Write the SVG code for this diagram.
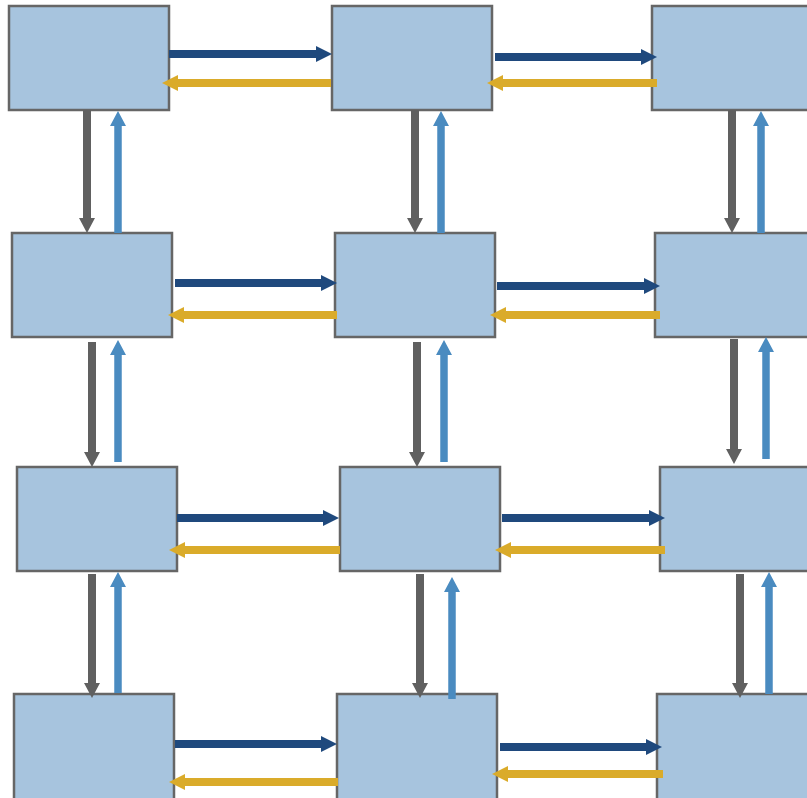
<svg xmlns="http://www.w3.org/2000/svg" width="807" height="798" viewBox="0 0 807 798">
<style>
.n{fill:#a7c4de;stroke:#666666;stroke-width:2.5}
.r{stroke:#1f497d;stroke-width:8;marker-end:url(#mR)}
.l{stroke:#daab2a;stroke-width:8;marker-end:url(#mL)}
.d{stroke:#606060;stroke-width:8;marker-end:url(#mD)}
.u{stroke:#4a8bc0;stroke-width:7.5;marker-end:url(#mU)}
</style>
<defs>
<marker id="mR" markerUnits="userSpaceOnUse" markerWidth="16" markerHeight="16" refX="0" refY="8" orient="auto" overflow="visible"><path d="M0,0L16,8L0,16z" fill="#1f497d"/></marker>
<marker id="mL" markerUnits="userSpaceOnUse" markerWidth="16" markerHeight="16" refX="0" refY="8" orient="auto" overflow="visible"><path d="M0,0L16,8L0,16z" fill="#daab2a"/></marker>
<marker id="mD" markerUnits="userSpaceOnUse" markerWidth="16" markerHeight="16" refX="0" refY="8" orient="auto" overflow="visible"><path d="M0,0L15,8L0,16z" fill="#606060"/></marker>
<marker id="mU" markerUnits="userSpaceOnUse" markerWidth="16" markerHeight="16" refX="0" refY="8" orient="auto" overflow="visible"><path d="M0,0L15,8L0,16z" fill="#4a8bc0"/></marker>
</defs>
<g id="n11"><rect class="n" x="9" y="6" width="160" height="104"/></g>
<g id="n12"><rect class="n" x="332" y="6" width="160" height="104"/></g>
<g id="n13"><rect class="n" x="652" y="6" width="160" height="104"/></g>
<g id="n21"><rect class="n" x="12" y="233" width="160" height="104"/></g>
<g id="n22"><rect class="n" x="335" y="233" width="160" height="104"/></g>
<g id="n23"><rect class="n" x="655" y="233" width="160" height="104"/></g>
<g id="n31"><rect class="n" x="17" y="467" width="160" height="104"/></g>
<g id="n32"><rect class="n" x="340" y="467" width="160" height="104"/></g>
<g id="n33"><rect class="n" x="660" y="467" width="160" height="104"/></g>
<g id="n41"><rect class="n" x="14" y="694" width="160" height="106"/></g>
<g id="n42"><rect class="n" x="337" y="694" width="160" height="106"/></g>
<g id="n43"><rect class="n" x="657" y="694" width="160" height="106"/></g>
<g id="connectors">
<line class="r" x1="169" y1="54" x2="316" y2="54"/>
<line class="l" x1="331" y1="83" x2="178" y2="83"/>
<line class="r" x1="495" y1="57" x2="641" y2="57"/>
<line class="l" x1="657" y1="83" x2="503" y2="83"/>
<line class="d" x1="87" y1="110" x2="87" y2="218"/>
<line class="u" x1="118" y1="233" x2="118" y2="126"/>
<line class="d" x1="415" y1="110" x2="415" y2="218"/>
<line class="u" x1="441" y1="233" x2="441" y2="126"/>
<line class="d" x1="732" y1="110" x2="732" y2="218"/>
<line class="u" x1="761" y1="233" x2="761" y2="126"/>
<line class="r" x1="175" y1="283" x2="321" y2="283"/>
<line class="l" x1="337" y1="315" x2="184" y2="315"/>
<line class="r" x1="497" y1="286" x2="644" y2="286"/>
<line class="l" x1="660" y1="315" x2="506" y2="315"/>
<line class="d" x1="92" y1="342" x2="92" y2="452"/>
<line class="u" x1="118" y1="462" x2="118" y2="355"/>
<line class="d" x1="417" y1="342" x2="417" y2="452"/>
<line class="u" x1="444" y1="462" x2="444" y2="355"/>
<line class="d" x1="734" y1="339" x2="734" y2="449"/>
<line class="u" x1="766" y1="459" x2="766" y2="352"/>
<line class="r" x1="177" y1="518" x2="323" y2="518"/>
<line class="l" x1="340" y1="550" x2="185" y2="550"/>
<line class="r" x1="502" y1="518" x2="649" y2="518"/>
<line class="l" x1="665" y1="550" x2="511" y2="550"/>
<line class="d" x1="92" y1="574" x2="92" y2="683"/>
<line class="u" x1="118" y1="693" x2="118" y2="587"/>
<line class="d" x1="420" y1="574" x2="420" y2="683"/>
<line class="u" x1="452" y1="699" x2="452" y2="592"/>
<line class="d" x1="740" y1="574" x2="740" y2="683"/>
<line class="u" x1="769" y1="694" x2="769" y2="587"/>
<line class="r" x1="175" y1="744" x2="321" y2="744"/>
<line class="l" x1="338" y1="782" x2="185" y2="782"/>
<line class="r" x1="500" y1="747" x2="646" y2="747"/>
<line class="l" x1="663" y1="774" x2="508" y2="774"/>
</g>
</svg>
